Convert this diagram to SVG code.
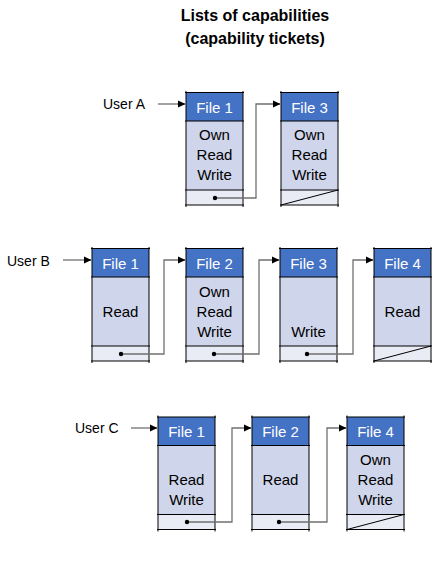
<svg xmlns="http://www.w3.org/2000/svg" width="437" height="581" viewBox="0 0 437 581">
<defs>
<style>
text{font-family:"Liberation Sans",Arial,sans-serif;}
.title{font-size:16px;font-weight:bold;fill:#000;text-anchor:middle;}
.user{font-size:14px;fill:#000;}
.hdr{fill:#4472C4;}
.body{fill:#CFD5EA;}
.ptr{fill:#E9EBF5;}
.ln{stroke:#000;stroke-width:1;fill:none;}
.ht{font-size:15px;fill:#fff;text-anchor:middle;}
.bt{font-size:15px;fill:#000;text-anchor:middle;}
.con{stroke:#707070;stroke-width:1.3;fill:none;}
.dot{fill:#000;}
</style>
<marker id="ah" markerWidth="8" markerHeight="8" refX="7" refY="4" orient="auto" markerUnits="userSpaceOnUse">
<path d="M0,0.5 L7.5,4 L0,7.5 Z" fill="#000"/>
</marker>
<g id="cell">
<rect class="hdr" x="0" y="0" width="57" height="28.5"/>
<rect class="body" x="0" y="28.5" width="57" height="69"/>
<rect class="ptr" x="0" y="97.5" width="57" height="15"/>
<path class="ln" d="M0,-1.5 V114.5 M57,-1.5 V114.5 M-1,0 H58 M-1,28.5 H58 M-1,97.5 H58 M-1,112.5 H58"/>
</g>
<g id="nil">
<line x1="0" y1="112.5" x2="57" y2="97.5" stroke="#000" stroke-width="1"/>
</g>
</defs>

<text class="title" x="255" y="21">Lists of capabilities</text>
<text class="title" x="255" y="44">(capability tickets)</text>

<g id="userA"><text class="user" x="103" y="109">User A</text></g>
<g id="userB"><text class="user" x="7" y="266">User B</text></g>
<g id="userC"><text class="user" x="75" y="433">User C</text></g>

<g id="A1" transform="translate(186,92.5)">
<use href="#cell"/>
<text class="ht" x="28.5" y="20">File 1</text>
<text class="bt" x="28.5" y="47.5">Own</text>
<text class="bt" x="28.5" y="67.5">Read</text>
<text class="bt" x="28.5" y="87.5">Write</text>
</g>
<g id="A3" transform="translate(281,92.5)">
<use href="#cell"/>
<use href="#nil"/>
<text class="ht" x="28.5" y="20">File 3</text>
<text class="bt" x="28.5" y="47.5">Own</text>
<text class="bt" x="28.5" y="67.5">Read</text>
<text class="bt" x="28.5" y="87.5">Write</text>
</g>

<g id="B1" transform="translate(92,248.5)">
<use href="#cell"/>
<text class="ht" x="28.5" y="20">File 1</text>
<text class="bt" x="28.5" y="68.5">Read</text>
</g>
<g id="B2" transform="translate(186,248.5)">
<use href="#cell"/>
<text class="ht" x="28.5" y="20">File 2</text>
<text class="bt" x="28.5" y="48.5">Own</text>
<text class="bt" x="28.5" y="68.5">Read</text>
<text class="bt" x="28.5" y="88.5">Write</text>
</g>
<g id="B3" transform="translate(280,248.5)">
<use href="#cell"/>
<text class="ht" x="28.5" y="20">File 3</text>
<text class="bt" x="28.5" y="88.5">Write</text>
</g>
<g id="B4" transform="translate(374,248.5)">
<use href="#cell"/>
<use href="#nil"/>
<text class="ht" x="28.5" y="20">File 4</text>
<text class="bt" x="28.5" y="68.5">Read</text>
</g>

<g id="C1" transform="translate(158,417)">
<use href="#cell"/>
<text class="ht" x="28.5" y="20">File 1</text>
<text class="bt" x="28.5" y="67.5">Read</text>
<text class="bt" x="28.5" y="87.5">Write</text>
</g>
<g id="C2" transform="translate(252,417)">
<use href="#cell"/>
<text class="ht" x="28.5" y="20">File 2</text>
<text class="bt" x="28.5" y="67.5">Read</text>
</g>
<g id="C4" transform="translate(347,417)">
<use href="#cell"/>
<use href="#nil"/>
<text class="ht" x="28.5" y="20">File 4</text>
<text class="bt" x="28.5" y="48">Own</text>
<text class="bt" x="28.5" y="68">Read</text>
<text class="bt" x="28.5" y="87.5">Write</text>
</g>

<g id="connectors">
<line class="con" x1="158" y1="104" x2="185" y2="104" marker-end="url(#ah)"/>
<polyline class="con" points="215,198 256,198 256,104 280,104" marker-end="url(#ah)"/>
<circle class="dot" cx="215" cy="198" r="2.2"/>

<line class="con" x1="63" y1="260" x2="91" y2="260" marker-end="url(#ah)"/>
<polyline class="con" points="121,354 164,354 164,260 185,260" marker-end="url(#ah)"/>
<circle class="dot" cx="121" cy="354" r="2.2"/>
<polyline class="con" points="214,354 259,354 259,260 279,260" marker-end="url(#ah)"/>
<circle class="dot" cx="214" cy="354" r="2.2"/>
<polyline class="con" points="307,354 353,354 353,260 373,260" marker-end="url(#ah)"/>
<circle class="dot" cx="307" cy="354" r="2.2"/>

<line class="con" x1="131" y1="428" x2="157" y2="428" marker-end="url(#ah)"/>
<polyline class="con" points="187,522 232,522 232,428 251,428" marker-end="url(#ah)"/>
<circle class="dot" cx="187" cy="522" r="2.2"/>
<polyline class="con" points="279,522 327,522 327,428 346,428" marker-end="url(#ah)"/>
<circle class="dot" cx="279" cy="522" r="2.2"/>
</g>
</svg>
